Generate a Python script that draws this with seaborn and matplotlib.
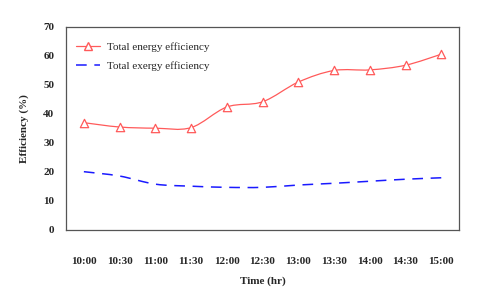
import numpy as np
import pandas as pd
import matplotlib
matplotlib.use("Agg")
import matplotlib.pyplot as plt
import seaborn as sns
from matplotlib.path import Path
from matplotlib.patches import PathPatch
from matplotlib.lines import Line2D

# Data
times = ["10:00", "10:30", "11:00", "11:30", "12:00", "12:30",
         "13:00", "13:30", "14:00", "14:30", "15:00"]
energy_eff = [37.0, 35.5, 35.1, 35.3, 42.4, 44.2, 51.0, 55.0, 55.2, 56.8, 60.6]
exergy_eff = [20.1, 18.6, 15.8, 15.1, 14.7, 14.7, 15.5, 16.1, 16.8, 17.5, 18.0]

red = "#ff5a5a"
blue = "#1a1aff"

sns.set_style("white")
plt.rcParams["font.family"] = ["Liberation Serif", "DejaVu Serif"]

df = pd.DataFrame({
    "pos": np.arange(len(times)),
    "Time": times,
    "energy": energy_eff,
    "exergy": exergy_eff,
})


def smooth_path(xs, ys):
    # cubic bezier through the points (catmull-rom style handles)
    xs = np.asarray(xs, float)
    ys = np.asarray(ys, float)
    verts = [(xs[0], ys[0])]
    codes = [Path.MOVETO]
    n = len(xs)
    for i in range(n - 1):
        x0, y0 = (xs[i - 1], ys[i - 1]) if i > 0 else (xs[i], ys[i])
        x1, y1 = xs[i], ys[i]
        x2, y2 = xs[i + 1], ys[i + 1]
        x3, y3 = (xs[i + 2], ys[i + 2]) if i + 2 < n else (x2, y2)
        c1 = (x1 + (x2 - x0) / 6, y1 + (y2 - y0) / 6)
        c2 = (x2 - (x3 - x1) / 6, y2 - (y3 - y1) / 6)
        verts += [c1, c2, (x2, y2)]
        codes += [Path.CURVE4] * 3
    return Path(verts, codes)


fig = plt.figure(figsize=(4.8, 3.03), dpi=100)
ax = fig.add_axes([0.1375, 0.241, 0.819, 0.670])

ax.add_patch(PathPatch(smooth_path(df["pos"], df["energy"]), fill=False,
                       edgecolor=red, lw=0.9, transform=ax.transData))
ax.add_patch(PathPatch(smooth_path(df["pos"], df["exergy"]), fill=False,
                       edgecolor=blue, lw=1.1, linestyle=(0, (7, 5)),
                       transform=ax.transData))

sns.scatterplot(data=df, x="pos", y="energy", ax=ax, marker="^", s=36,
                facecolor="white", edgecolor=red, linewidth=0.9, zorder=3)

ax.set_xlim(-0.5, len(times) - 0.5)
ax.set_ylim(0, 70)
ax.set_yticks(range(0, 71, 10))
ax.set_xticks(df["pos"])
ax.set_xticklabels(times)
ax.set_xticks(np.arange(-0.5, len(times), 1), minor=True)

for s in ax.spines.values():
    s.set_color("#555555")
    s.set_linewidth(0.9)

ax.tick_params(axis="both", which="both", direction="out", color="#555555",
               width=0.8)
ax.tick_params(axis="x", which="minor", length=4.3)
ax.tick_params(axis="x", which="major", length=2.2, pad=17, labelsize=8)
ax.tick_params(axis="y", length=4.3, pad=4, labelsize=8)
for lab in ax.get_xticklabels() + ax.get_yticklabels():
    lab.set_fontweight("bold")

ax.set_xlabel("Time (hr)", fontsize=8, fontweight="bold", labelpad=8)
ax.set_ylabel("Efficiency (%)", fontsize=8, fontweight="bold", labelpad=10)

handles = [
    Line2D([], [], color=red, lw=0.9, marker="^", markersize=6,
           markerfacecolor="white", markeredgecolor=red),
    Line2D([], [], color=blue, lw=1.1, linestyle=(0, (7, 5))),
]
ax.legend(handles, ["Total energy efficiency", "Total exergy efficiency"],
          loc="upper left", bbox_to_anchor=(0.0, 0.975), frameon=False,
          fontsize=8, handlelength=2.2, handletextpad=0.6,
          borderaxespad=0.5, labelspacing=0.85)

fig.savefig("out.png", dpi=100)
